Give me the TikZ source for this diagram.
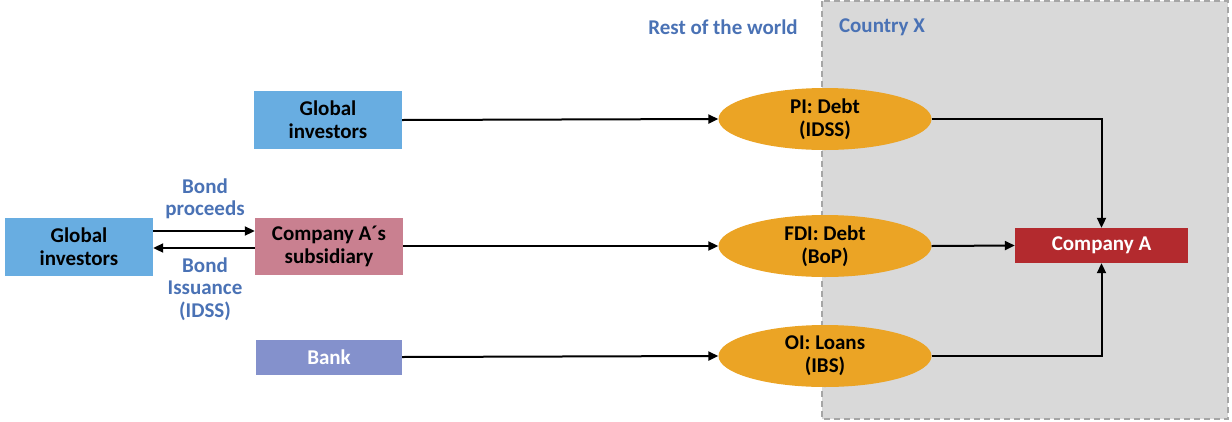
\documentclass[tikz,border=0pt]{standalone}
\usepackage{fontspec}
\setmainfont{Carlito}
\usetikzlibrary{arrows.meta,shapes.geometric}
\definecolor{txtblue}{HTML}{4A72B5}
\definecolor{boxblue}{HTML}{68ADE1}
\definecolor{boxpink}{HTML}{C98090}
\definecolor{boxbank}{HTML}{8491CC}
\definecolor{ellorange}{HTML}{EBA425}
\definecolor{boxred}{HTML}{B32A2E}
\definecolor{regiongray}{HTML}{D9D9D9}
\definecolor{regionborder}{HTML}{A6A6A6}
\tikzset{
  box/.style={rectangle, inner sep=0pt, align=center, font=\fontsize{21}{23}\selectfont\bfseries},
  oval/.style={ellipse, fill=ellorange, minimum width=213pt, minimum height=62pt, inner sep=0pt, align=center, font=\fontsize{21}{23}\selectfont\bfseries},
  lbl/.style={text=txtblue, align=center, font=\fontsize{21}{22.5}\selectfont\bfseries},
  flow/.style={line width=2pt, -{Triangle[length=10pt,width=9pt]}}
}
\begin{document}
\begin{tikzpicture}[x=1pt,y=-1pt]
\useasboundingbox (0,0) rectangle (1232,421);
% region
\fill[regiongray] (822,1) rectangle (1228,419);
\draw[regionborder, line width=1.5pt, dash pattern=on 6pt off 4pt] (822,1) rectangle (1228,419);
\node[lbl] (rw) at (723,27) {Rest of the world};
\node[lbl] (cx) at (882,27) {Country X};
% left boxes
\node[box, fill=boxblue, minimum width=148pt, minimum height=58pt] (gi1) at (328,120) {Global\\investors};
\node[box, fill=boxblue, minimum width=148pt, minimum height=58pt] (gi2) at (79,247) {Global\\investors};
\node[box, fill=boxpink, minimum width=148pt, minimum height=57pt] (sub) at (329,246) {Company A\char"00B4s\\subsidiary};
\node[box, fill=boxbank, text=white, minimum width=146pt, minimum height=35pt] (bank) at (329,357) {Bank};
% ellipses
\node[oval] (pi) at (825,119) {PI: Debt\\(IDSS)};
\node[oval] (fdi) at (825,246) {FDI: Debt\\(BoP)};
\node[oval] (oi) at (825,356) {OI: Loans\\(IBS)};
% company A
\node[box, fill=boxred, text=white, minimum width=173pt, minimum height=35pt] (ca) at (1101.5,245.5) {Company A};
% labels
\node[lbl] (bp) at (205,199) {Bond\\proceeds};
\node[lbl] (bi) at (205,289) {Bond\\Issuance\\(IDSS)};
% arrows
\draw[flow] (gi2.east |- 0,231) -- (sub.west |- 0,231);
\draw[flow] (sub.west |- 0,248) -- (gi2.east |- 0,248);
\draw[flow] (gi1.east) -- (pi.west);
\draw[flow] (sub.east) -- (fdi.west);
\draw[flow] (bank.east) -- (oi.west);
\draw[flow] (pi.east) -| (ca.north);
\draw[flow] (fdi.east) -- (ca.west);
\draw[flow] (oi.east) -| (ca.south);
\end{tikzpicture}
\end{document}
